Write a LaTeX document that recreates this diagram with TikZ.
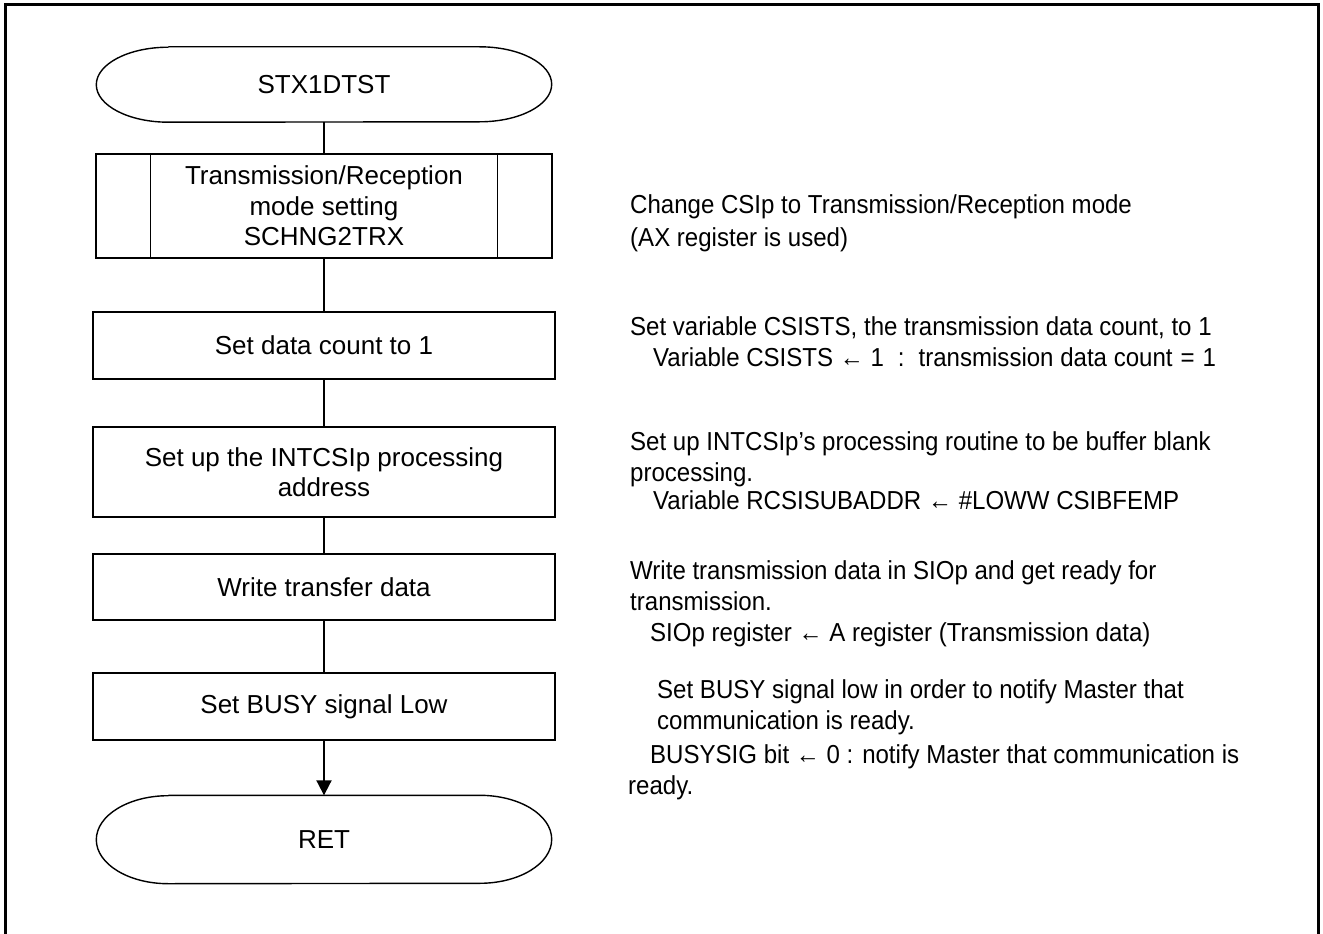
\documentclass[tikz,border=0pt]{standalone}
\usepackage{fontspec}
\setmainfont{Liberation Sans}
\newfontfamily\notefont[FakeStretch=0.925]{Liberation Sans}
\usetikzlibrary{arrows.meta}

\begin{document}
\begin{tikzpicture}[x=1pt,y=-1pt,
    box/.style={draw,line width=1.4pt},
    proc/.style={box,minimum width=462pt,minimum height=67pt,align=center,font=\fontsize{26}{30.5}\selectfont},
    term/.style={minimum width=455pt,minimum height=75pt,font=\fontsize{26}{30.5}\selectfont},
    flow/.style={line width=2pt},
    note/.style={anchor=north west,align=left,inner sep=0pt,font=\notefont\fontsize{26}{31}\selectfont}]
  \useasboundingbox (0,0) rectangle (1323,934);
  % frame, open at the bottom
  \draw[line width=3pt] (5,934) -- (5,5) -- (1318,5) -- (1318,934);

  % flow chart
  \node[term] (start) at (324,84.5) {STX1DTST};
  \node[proc,minimum width=456pt,minimum height=104pt] (sub) at (324,206) {Transmission/Reception\\mode setting\\SCHNG2TRX};
  \node[proc] (count) at (324,345.5) {Set data count to 1};
  \node[proc,minimum height=90pt] (addr) at (324,472) {Set up the INTCSIp processing\\address};
  \node[proc,minimum height=66pt] (write) at (324,587) {Write transfer data};
  \node[proc] (busy) at (324,706.5) {Set BUSY signal Low};
  \node[term,minimum height=88pt] (ret) at (324,839.5) {RET};

  % terminal outlines
  \foreach \n/\r in {start/37.5,ret/44}{
    \draw[box] ([xshift=72pt]\n.north west) -- ([xshift=-72pt]\n.north east)
      arc[start angle=90,end angle=-90,x radius=72pt,y radius=\r pt]
      -- ([xshift=72pt]\n.south west)
      arc[start angle=270,end angle=90,x radius=72pt,y radius=\r pt];
  }
  \draw[box] ([xshift=55pt]sub.north west) -- ([xshift=55pt]sub.south west);
  \draw[box] ([xshift=-55pt]sub.north east) -- ([xshift=-55pt]sub.south east);

  \foreach \a/\b in {start/sub,sub/count,count/addr,addr/write,write/busy}
    \draw[flow] (\a.south) -- (\b.north);
  \draw[flow,-{Triangle[length=15pt,width=15pt]}] (busy.south) -- (ret.north);

  % notes
  \node[note] (n1) at (630,194) {Change CSIp to Transmission/Reception mode\\[2pt](AX register is used)};
  \node[note] (n2) at (630,316) {Set variable CSISTS, the transmission data count, to 1\\
    \hspace*{23pt}Variable CSISTS ← 1\hspace{14pt}:\hspace{14pt}transmission data count\hspace{8pt}=\hspace{8pt}1};
  \node[note] (n3) at (630,431) {Set up INTCSIp’s processing routine to be buffer blank\\
    processing.\\[-3pt]
    \hspace*{23pt}Variable RCSISUBADDR ← \#LOWW CSIBFEMP};
  \node[note] (n4) at (630,560) {Write transmission data in SIOp and get ready for\\
    transmission.\\
    \hspace*{20pt}SIOp register ← A register (Transmission data)};
  \node[note] (n5) at (628,679) {\hspace*{29pt}Set BUSY signal low in order to notify Master that\\
    \hspace*{29pt}communication is ready.\\[3pt]
    \hspace*{22pt}BUSYSIG bit ← 0 : notify Master that communication is\\
    ready.};
\end{tikzpicture}
\end{document}
